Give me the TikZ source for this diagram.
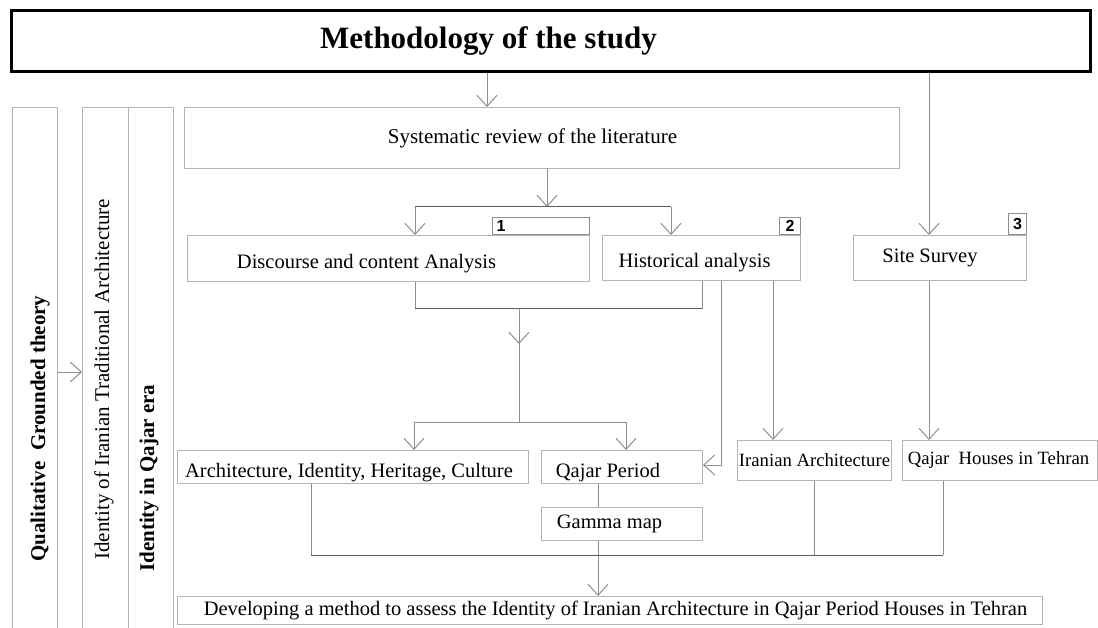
\documentclass[tikz,border=0pt]{standalone}
\usepackage{fontspec}
\setmainfont{Liberation Serif}
\newfontfamily\numfont{Liberation Sans}
\usetikzlibrary{arrows.meta,calc}
\definecolor{boxgray}{HTML}{B4B4B4}
\definecolor{linegray}{HTML}{8E8E8E}
\definecolor{bargray}{HTML}{5C5C5C}
\newcommand{\fs}[1]{\fontsize{#1}{#1}\selectfont}

\begin{document}
\begin{tikzpicture}[x=1pt,y=-1pt,
  box/.style={draw=boxgray, line width=1pt, inner sep=0pt, anchor=north west, font=\fs{20.5}},
  lowtext/.style={text height=20pt, text depth=0pt},
  colbox/.style={draw=boxgray, line width=1pt, inner sep=0pt, anchor=north west,
    minimum width=45pt, minimum height=530pt},
  numbox/.style={draw=linegray, line width=1pt, inner sep=0pt, anchor=south west,
    font=\numfont\bfseries\fs{16}},
  coltext/.style={rotate=90, anchor=west, inner sep=0pt, font=\fs{21}},
  conn/.style={draw=linegray, line width=1pt},
  arr/.style={conn, -{Straight Barb[length=11pt,width=20pt,line width=1pt]}},
  bar/.style={draw=bargray, line width=1pt}
]
\useasboundingbox (0,0) rectangle (1098,628);

% heading
\node[draw=black, line width=3pt, anchor=north west, inner sep=0pt,
  minimum width=1079pt, minimum height=61pt, font=\bfseries\fs{31}]
  (title) at (10,9) {\hspace*{-125pt}Methodology of the study};

% side columns
\node[colbox] (c1) at (12,107) {};
\node[colbox, minimum width=46pt] (c2) at (82,107) {};
\node[colbox] (c3) at (128,107) {};
\node[coltext, font=\bfseries\fs{21}] (t1) at (40,562) {Qualitative\ \ Grounded theory};
\node[coltext] (t2) at (104,560) {Identity of Iranian Traditional Architecture};
\node[coltext, font=\bfseries\fs{21}] (t3) at (149,572) {Identity in Qajar era};

% main boxes
\node[box, minimum width=715pt, minimum height=61pt, font=\fs{21}] (syst) at (184,107)
  {\hspace*{-19pt}Systematic review of the literature};
\node[box, lowtext, minimum width=402pt, minimum height=46pt] (dca) at (187,235)
  {\hspace*{-44pt}Discourse and content Analysis};
\node[box, lowtext, minimum width=198pt, minimum height=45pt] (hist) at (602,235)
  {\hspace*{-14pt}Historical analysis};
\node[box, minimum width=173pt, minimum height=45pt] (site) at (853,235)
  {\hspace*{-20pt}Site Survey};
\node[numbox, minimum width=97pt, minimum height=17pt, text width=89pt, align=left]
  (n1) at (492,235) {1};
\node[numbox, minimum width=21pt, minimum height=17pt] (n2) at (779,235) {2};
\node[numbox, minimum width=18pt, minimum height=21pt] (n3) at (1008,235) {3};

\node[box, lowtext, minimum width=351pt, minimum height=33pt] (arch) at (177,450)
  {\hspace*{-8pt}Architecture, Identity, Heritage, Culture};
\node[box, lowtext, minimum width=161pt, minimum height=33pt] (qp) at (541,450)
  {\hspace*{-28pt}Qajar Period};
\node[box, minimum width=161pt, minimum height=33pt] (gamma) at (541,507)
  {\hspace*{-25pt}Gamma map};
\node[box, minimum width=154pt, minimum height=40pt, font=\fs{18.7}] (iran) at (737,440)
  {Iranian Architecture};
\node[box, minimum width=195pt, minimum height=40pt, font=\fs{18.7}] (qh) at (902,440)
  {\hspace*{-3pt}Qajar\ \ Houses in Tehran};
\node[box, minimum width=865pt, minimum height=28pt] (dev) at (177,596)
  {\hspace*{11pt}Developing a method to assess the Identity of Iranian Architecture in Qajar Period Houses in Tehran};

% guide positions of the connectors
\coordinate (x1) at (487,0);
\coordinate (x2) at (929,0);
\coordinate (x3) at (547,0);
\coordinate (x4) at (415,0);
\coordinate (x5) at (671,0);
\coordinate (x6) at (702,0);
\coordinate (x7) at (519,0);
\coordinate (x8) at (414,0);
\coordinate (x9) at (626,0);
\coordinate (x10) at (721,0);
\coordinate (x11) at (773,0);
\coordinate (x12) at (598,0);
\coordinate (x13) at (311,0);
\coordinate (x14) at (814,0);
\coordinate (x15) at (943,0);
\coordinate (y1) at (0,207);
\coordinate (y2) at (0,309);
\coordinate (y3) at (0,422);
\coordinate (y4) at (0,465);
\coordinate (y5) at (0,555);
\coordinate (ym) at (0,344);
\coordinate (ya) at (0,372);

% connectors
\draw[arr] (c1.east |- ya) -- (c2.west |- ya);
\draw[arr] (title.south -| x1) -- (syst.north -| x1);
\draw[arr] (title.south -| x2) -- (site.north -| x2);
\draw[arr] (syst.south -| x3) -- (x3 |- y1);
\draw[bar] (x4 |- y1) -- (x5 |- y1);
\draw[arr] (x4 |- y1) -- (dca.north -| x4);
\draw[arr] (x5 |- y1) -- (hist.north -| x5);

\draw[conn] (dca.south -| x4) -- (x4 |- y2);
\draw[bar] (x4 |- y2) -- (x6 |- y2);
\draw[conn] (x6 |- y2) -- (hist.south -| x6);
\draw[conn] (x7 |- y2) -- (x7 |- y3);
\draw[arr] (x7 |- y2) -- (x7 |- ym);
\draw[conn] (x8 |- y3) -- (x9 |- y3);
\draw[arr] (x8 |- y3) -- (arch.north -| x8);
\draw[arr] (x9 |- y3) -- (qp.north -| x9);

\draw[arr] (hist.south -| x10) |- (qp.east |- y4);
\draw[arr] (hist.south -| x11) -- (iran.north -| x11);
\draw[arr] (site.south -| x2) -- (qh.north -| x2);

\draw[conn] (qp.south -| x12) -- (gamma.north -| x12);
\draw[arr] (gamma.south -| x12) -- (dev.north -| x12);

\draw[conn] (arch.south -| x13) -- (x13 |- y5);
\draw[conn] (iran.south -| x14) -- (x14 |- y5);
\draw[conn] (qh.south -| x15) -- (x15 |- y5);
\draw[bar] (x13 |- y5) -- (x15 |- y5);
\end{tikzpicture}
\end{document}
